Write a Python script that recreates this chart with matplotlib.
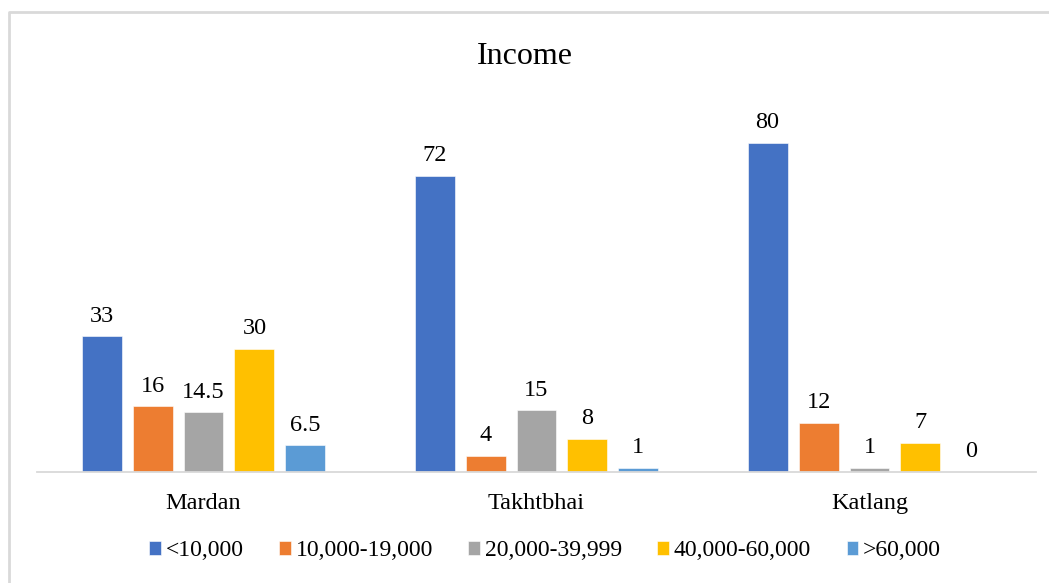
import matplotlib.pyplot as plt
from matplotlib.lines import Line2D
import numpy as np

plt.rcParams['font.family'] = ['Liberation Serif', 'DejaVu Serif']

regions = ['Mardan', 'Takhtbhai', 'Katlang']
income_groups = ['<10,000', '10,000-19,000', '20,000-39,999', '40,000-60,000', '>60,000']
under_10k = [33, 72, 80]
from_10k_to_19k = [16, 4, 12]
from_20k_to_39k = [14.5, 15, 1]
from_40k_to_60k = [30, 8, 7]
over_60k = [6.5, 1, 0]
value_labels = [
    ['33', '72', '80'],
    ['16', '4', '12'],
    ['14.5', '15', '1'],
    ['30', '8', '7'],
    ['6.5', '1', '0'],
]

series = [under_10k, from_10k_to_19k, from_20k_to_39k, from_40k_to_60k, over_60k]
colors = ['#4472C4', '#ED7D31', '#A5A5A5', '#FFC000', '#5B9BD5']

W, H = 1049, 583
fig = plt.figure(figsize=(W / 100, H / 100), dpi=100)
ax = fig.add_axes([37 / W, 111 / H, 999 / W, 370 / H])

x = np.arange(len(regions))
pitch = 0.153
width = 0.12
for i, (vals, col) in enumerate(zip(series, colors)):
    pos = x + (i - 2) * pitch
    bars = ax.bar(pos, vals, width=width, color=col, edgecolor='white',
                  linewidth=0.4, label=income_groups[i], zorder=2)
    for b, v, txt in zip(bars, vals, value_labels[i]):
        ax.annotate(txt, (b.get_x() + b.get_width() / 2, v),
                    xytext=(0, 7), textcoords='offset points',
                    ha='center', va='bottom', fontsize=17.5, color='#000000')

ax.set_xlim(-0.5, 2.5)
ax.set_ylim(0, 90)
ax.set_yticks([])
ax.set_xticks(x)
ax.set_xticklabels(regions, fontsize=17.5)
ax.tick_params(axis='x', length=0, pad=15)
for s in ['top', 'right', 'left']:
    ax.spines[s].set_visible(False)
ax.spines['bottom'].set_color('#D9D9D9')
ax.spines['bottom'].set_linewidth(1.3)

fig.text(525 / W, 1 - 57 / H, 'Income', ha='center', va='center', fontsize=23)

leg = fig.legend(loc='center', bbox_to_anchor=(545 / W, 1 - 551 / H), ncol=5,
                 frameon=False, fontsize=17, handlelength=0.5, handleheight=0.55,
                 handletextpad=0.2, columnspacing=1.5)

# outer chart frame
fig.add_artist(Line2D([9 / W, 9 / W, 1.0], [0.0, 1 - 12 / H, 1 - 12 / H],
                      transform=fig.transFigure, color='#D9D9D9', linewidth=2))

fig.savefig('out.png', dpi=100)
